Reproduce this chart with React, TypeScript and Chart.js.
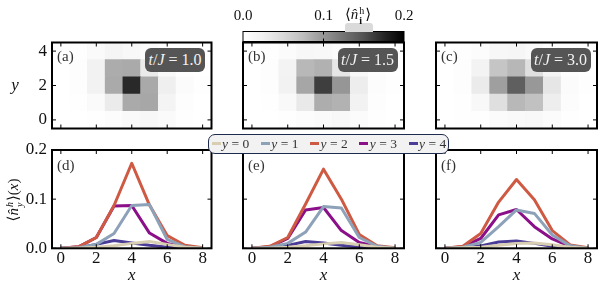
import React, { useEffect, useRef } from 'react';
import { Chart, registerables } from 'chart.js';
Chart.register(...registerables);

// ---------- data ----------
const xSites = [0, 1, 2, 3, 4, 5, 6, 7, 8];
const ySites = [0, 1, 2, 3, 4];
const timeLabels = ['1.0', '1.5', '3.0'];
const topLetters = ['(a)', '(b)', '(c)'];
const bottomLetters = ['(d)', '(e)', '(f)'];
const xTickValues = [0, 2, 4, 6, 8];
const heatYTickValues = [0, 2, 4];
const lineYTickValues = [0, 0.1, 0.2];
const cbarTickValues = [0, 0.1, 0.2];
const cbarMax = 0.2;

// t/J = 1.0  (hole density per row y, along x)
const t10_y0 = [0, 0, 0.002, 0.005, 0.01, 0.014, 0.008, 0.002, 0];
const t10_y1 = [0, 0.001, 0.008, 0.03, 0.087, 0.089, 0.018, 0.003, 0];
const t10_y2 = [0, 0.003, 0.022, 0.087, 0.173, 0.088, 0.026, 0.006, 0.001];
const t10_y3 = [0, 0.003, 0.022, 0.086, 0.087, 0.031, 0.01, 0.002, 0];
const t10_y4 = [0, 0.001, 0.008, 0.016, 0.011, 0.006, 0.002, 0.001, 0];
// t/J = 1.5
const t15_y0 = [0, 0, 0.002, 0.005, 0.009, 0.012, 0.007, 0.002, 0];
const t15_y1 = [0, 0.002, 0.01, 0.033, 0.085, 0.082, 0.022, 0.004, 0];
const t15_y2 = [0, 0.004, 0.022, 0.09, 0.161, 0.1, 0.028, 0.005, 0.001];
const t15_y3 = [0, 0.003, 0.02, 0.078, 0.083, 0.036, 0.012, 0.003, 0];
const t15_y4 = [0, 0.001, 0.006, 0.014, 0.011, 0.006, 0.002, 0.001, 0];
// t/J = 3.0
const t30_y0 = [0, 0.001, 0.002, 0.006, 0.01, 0.011, 0.007, 0.002, 0];
const t30_y1 = [0, 0.002, 0.012, 0.044, 0.078, 0.071, 0.027, 0.005, 0];
const t30_y2 = [0, 0.004, 0.03, 0.094, 0.14, 0.099, 0.036, 0.007, 0.001];
const t30_y3 = [0, 0.003, 0.02, 0.068, 0.079, 0.044, 0.019, 0.004, 0];
const t30_y4 = [0, 0.001, 0.005, 0.013, 0.015, 0.01, 0.004, 0.001, 0];

const rowsT10 = [t10_y0, t10_y1, t10_y2, t10_y3, t10_y4];
const rowsT15 = [t15_y0, t15_y1, t15_y2, t15_y3, t15_y4];
const rowsT30 = [t30_y0, t30_y1, t30_y2, t30_y3, t30_y4];
const allRows = [rowsT10, rowsT15, rowsT30];

const rowColors = ['#d8cfb3', '#8da1b9', '#cf5a44', '#8a0f88', '#4b3c98'];
const legendNames = ['0', '1', '2', '3', '4'];

// ---------- styling helpers ----------
const SERIF = '"Liberation Serif", "DejaVu Serif", serif';
const greysStops = ['#ffffff', '#f0f0f0', '#d9d9d9', '#bdbdbd', '#969696', '#737373', '#525252', '#252525', '#000000'];
function hex(c: string) {
  return [parseInt(c.slice(1, 3), 16), parseInt(c.slice(3, 5), 16), parseInt(c.slice(5, 7), 16)];
}
function greys(t: number) {
  t = Math.max(0, Math.min(1, t));
  const f = t * (greysStops.length - 1);
  const i = Math.min(greysStops.length - 2, Math.floor(f));
  const u = f - i;
  const a = hex(greysStops[i]);
  const b = hex(greysStops[i + 1]);
  const m = a.map((v, k) => Math.round(v + (b[k] - v) * u));
  return `rgb(${m[0]},${m[1]},${m[2]})`;
}

const framePlugin = {
  id: 'frame',
  afterDatasetsDraw(chart: any, _args: any, opts: any) {
    const { ctx, chartArea: a, scales } = chart;
    const L = opts.tickLen ?? 4;
    ctx.save();
    ctx.strokeStyle = '#000';
    ctx.lineWidth = opts.tickWidth ?? 1;
    ctx.beginPath();
    for (const v of opts.xTicks || []) {
      const px = scales.x.getPixelForValue(v);
      ctx.moveTo(px, a.bottom);
      ctx.lineTo(px, a.bottom - L);
      ctx.moveTo(px, a.top);
      ctx.lineTo(px, a.top + L);
    }
    for (const v of opts.yTicks || []) {
      const py = scales.y.getPixelForValue(v);
      ctx.moveTo(a.left, py);
      ctx.lineTo(a.left + L, py);
      ctx.moveTo(a.right, py);
      ctx.lineTo(a.right - L, py);
    }
    ctx.stroke();
    ctx.lineWidth = opts.lineWidth ?? 2;
    ctx.strokeRect(a.left, a.top, a.right - a.left, a.bottom - a.top);
    ctx.restore();
  },
};

const gradientPlugin = {
  id: 'cbarGradient',
  beforeDatasetsDraw(chart: any) {
    const { ctx, chartArea: a, scales } = chart;
    const x0 = scales.x.getPixelForValue(0);
    const x1 = scales.x.getPixelForValue(cbarMax);
    const g = ctx.createLinearGradient(x0, 0, x1, 0);
    greysStops.forEach((c, i) => g.addColorStop(i / (greysStops.length - 1), c));
    ctx.save();
    ctx.fillStyle = g;
    ctx.fillRect(a.left, a.top, a.right - a.left, a.bottom - a.top);
    ctx.restore();
  },
};

const W = 606;
const H = 286;

type Rect = { l: number; t: number; r: number; b: number };
const heatRects: Rect[] = [
  { l: 52, t: 42.5, r: 211.5, b: 128.5 },
  { l: 243, t: 42.5, r: 404, b: 128.5 },
  { l: 436, t: 42.5, r: 597, b: 128.5 },
];
const lineRects: Rect[] = [
  { l: 52, t: 150, r: 211.5, b: 248.3 },
  { l: 243, t: 150, r: 404, b: 248.3 },
  { l: 436, t: 150, r: 597, b: 248.3 },
];
const cbarRect: Rect = { l: 243, t: 31.5, r: 404, b: 41.5 };

const AXW = 30; // y axis box width
const AXH = 24; // x axis box height

function padFor(r: Rect) {
  return { left: r.l - AXW, top: r.t, right: W - r.r, bottom: H - r.b - AXH };
}

function heatConfig(k: number) {
  const rows = allRows[k];
  const r = heatRects[k];
  return {
    type: 'bar',
    data: {
      labels: xSites.map(String),
      datasets: ySites.map((yv, ri) => ({
        data: xSites.map(() => [yv - 0.5, yv + 0.5]),
        backgroundColor: rows[ri].map((v) => greys(v / cbarMax)),
        borderWidth: 0,
        barPercentage: 1,
        categoryPercentage: 1,
        grouped: false,
      })),
    },
    plugins: [framePlugin],
    options: {
      responsive: false,
      animation: false,
      devicePixelRatio: 1,
      layout: { padding: padFor(r) },
      plugins: {
        legend: { display: false },
        tooltip: { enabled: false },
        frame: { xTicks: xTickValues, yTicks: heatYTickValues, lineWidth: 2, tickLen: 4 },
      },
      scales: {
        x: {
          type: 'category',
          offset: true,
          grid: { display: false, drawTicks: false },
          border: { display: false },
          ticks: { display: false },
          afterFit: (s: any) => { s.height = AXH; },
        },
        y: {
          type: 'linear',
          min: -0.5,
          max: 4.5,
          grid: { display: false, drawTicks: false },
          border: { display: false },
          ticks: { display: k === 0, padding: 5, color: '#111', font: { family: SERIF, size: 17 } },
          afterBuildTicks: (s: any) => { s.ticks = heatYTickValues.map((v) => ({ value: v })); },
          afterFit: (s: any) => { s.width = AXW; },
        },
      },
    },
  };
}

function lineConfig(k: number) {
  const rows = allRows[k];
  const r = lineRects[k];
  return {
    type: 'line',
    data: {
      datasets: ySites.map((yv, ri) => ({
        label: 'y = ' + yv,
        data: xSites.map((x, i) => ({ x, y: rows[ri][i] })),
        borderColor: rowColors[ri],
        borderWidth: 3,
        pointRadius: 0,
        fill: false,
        tension: 0,
        borderJoinStyle: 'round',
      })),
    },
    plugins: [framePlugin],
    options: {
      responsive: false,
      animation: false,
      devicePixelRatio: 1,
      layout: { padding: padFor(r) },
      plugins: {
        legend: { display: false },
        tooltip: { enabled: false },
        frame: { xTicks: xTickValues, yTicks: lineYTickValues, lineWidth: 2, tickLen: 4 },
      },
      scales: {
        x: {
          type: 'linear',
          min: -0.5,
          max: 8.5,
          offset: false,
          grid: { display: false, drawTicks: false },
          border: { display: false },
          ticks: { padding: 0, color: '#111', font: { family: SERIF, size: 17 }, callback: (v: any) => String(v) },
          afterBuildTicks: (s: any) => { s.ticks = xTickValues.map((v) => ({ value: v })); },
          afterFit: (s: any) => { s.height = AXH; },
        },
        y: {
          type: 'linear',
          min: 0,
          max: 0.2,
          grid: { display: false, drawTicks: false },
          border: { display: false },
          ticks: { display: k === 0, padding: 5, color: '#111', font: { family: SERIF, size: 17 }, callback: (v: any) => Number(v).toFixed(1) },
          afterBuildTicks: (s: any) => { s.ticks = lineYTickValues.map((v) => ({ value: v })); },
          afterFit: (s: any) => { s.width = AXW; },
        },
      },
    },
  };
}

function cbarConfig() {
  const r = cbarRect;
  return {
    type: 'line',
    data: { datasets: [] },
    plugins: [gradientPlugin, framePlugin],
    options: {
      responsive: false,
      animation: false,
      devicePixelRatio: 1,
      layout: { padding: { left: r.l, top: r.t - AXH, right: W - r.r, bottom: H - r.b } },
      plugins: {
        legend: { display: false },
        tooltip: { enabled: false },
        frame: { xTicks: [0.1], yTicks: [], lineWidth: 1, tickLen: 3 },
      },
      scales: {
        x: {
          type: 'linear',
          position: 'top',
          min: 0,
          max: cbarMax,
          offset: false,
          grid: { display: false, drawTicks: false },
          border: { display: false },
          ticks: { padding: 6, color: '#111', font: { family: SERIF, size: 15 }, callback: (v: any) => Number(v).toFixed(1) },
          afterBuildTicks: (s: any) => { s.ticks = cbarTickValues.map((v) => ({ value: v })); },
          afterFit: (s: any) => { s.height = AXH; },
        },
        y: { display: false, min: 0, max: 1 },
      },
    },
  };
}

function ChartCanvas({ make }: { make: () => any }) {
  const ref = useRef<HTMLCanvasElement>(null);
  useEffect(() => {
    const c = new Chart(ref.current as HTMLCanvasElement, make());
    return () => c.destroy();
  }, []);
  return (
    <canvas
      ref={ref}
      width={W}
      height={H}
      style={{ position: 'absolute', left: 0, top: 0, width: W, height: H }}
    />
  );
}

function Stack({ sup, sub, size }: { sup: React.ReactNode; sub: React.ReactNode; size: number }) {
  return (
    <span
      style={{
        display: 'inline-flex',
        flexDirection: 'column',
        verticalAlign: 'middle',
        fontSize: size,
        lineHeight: 0.95,
        margin: '0 1px',
      }}
    >
      <span>{sup}</span>
      <span>{sub}</span>
    </span>
  );
}

function Centered({ x, y, children, style }: { x: number; y: number; children: React.ReactNode; style?: any }) {
  return (
    <div
      style={{
        position: 'absolute',
        left: x,
        top: y,
        transform: 'translate(-50%, -50%)',
        whiteSpace: 'nowrap',
        fontFamily: SERIF,
        ...style,
      }}
    >
      {children}
    </div>
  );
}

export default function App() {
  return (
    <div
      style={{
        position: 'absolute',
        left: 0,
        top: 0,
        width: W,
        height: H,
        background: '#fff',
        overflow: 'hidden',
        fontFamily: SERIF,
      }}
    >
      {[0, 1, 2].map((k) => (
        <ChartCanvas key={'h' + k} make={() => heatConfig(k)} />
      ))}
      {[0, 1, 2].map((k) => (
        <ChartCanvas key={'l' + k} make={() => lineConfig(k)} />
      ))}
      <ChartCanvas make={cbarConfig} />

      {/* colorbar label with its light box */}
      <div
        style={{
          position: 'absolute',
          left: 345,
          top: 23,
          width: 28,
          height: 8.5,
          background: '#dadada',
          borderRadius: '3px 3px 0 0',
        }}
      />
      <Centered x={358} y={15} style={{ fontSize: 15, color: '#111' }}>
        ⟨<i>n̂</i>
        <Stack sup="h" sub={<b>i</b>} size={10} />⟩
      </Centered>

      {/* panel letters */}
      {heatRects.map((r, k) => (
        <div
          key={'tl' + k}
          style={{ position: 'absolute', left: r.l + 5, top: r.t + 6, fontSize: 15, lineHeight: '15px', color: '#333' }}
        >
          {topLetters[k]}
        </div>
      ))}
      {lineRects.map((r, k) => (
        <div
          key={'bl' + k}
          style={{ position: 'absolute', left: r.l + 5, top: r.t + 8, fontSize: 15, lineHeight: '15px', color: '#333' }}
        >
          {bottomLetters[k]}
        </div>
      ))}

      {/* t/J boxes */}
      {heatRects.map((r, k) => (
        <div
          key={'tj' + k}
          style={{
            position: 'absolute',
            left: r.r - 66.5,
            top: r.t + 5,
            width: 60,
            height: 24,
            background: '#555555',
            borderRadius: 6,
            color: '#f2f2f2',
            fontSize: 16,
            display: 'flex',
            alignItems: 'center',
            justifyContent: 'center',
            whiteSpace: 'nowrap',
          }}
        >
          <i>t</i>/<i>J</i>&nbsp;=&nbsp;{timeLabels[k]}
        </div>
      ))}

      {/* axis titles */}
      <Centered x={15} y={85} style={{ fontSize: 17, fontStyle: 'italic', color: '#111' }}>
        y
      </Centered>
      {lineRects.map((r, k) => (
        <Centered key={'xt' + k} x={(r.l + r.r) / 2} y={275} style={{ fontSize: 17, fontStyle: 'italic', color: '#111' }}>
          x
        </Centered>
      ))}
      <Centered
        x={14}
        y={200}
        style={{ fontSize: 15, color: '#111', transform: 'translate(-50%, -50%) rotate(-90deg)' }}
      >
        ⟨<i>n̂</i>
        <Stack sup={<i>h</i>} sub={<i>y</i>} size={10} />⟩(<i>x</i>)
      </Centered>

      {/* legend */}
      <div
        style={{
          position: 'absolute',
          left: 208,
          top: 133.5,
          width: 241,
          height: 20.5,
          boxSizing: 'border-box',
          border: '1.5px solid #1f2b4e',
          borderRadius: 7,
          background: '#f2f2f2',
        }}
      >
        {legendNames.map((n, i) => (
          <div key={'lg' + i}>
            <div
              style={{
                position: 'absolute',
                left: 2.5 + i * 49.25,
                top: 7,
                width: 9,
                height: 3.5,
                background: rowColors[i],
              }}
            />
            <div
              style={{
                position: 'absolute',
                left: 13 + i * 49.25,
                top: 0,
                height: 17.5,
                lineHeight: '17.5px',
                fontSize: 13.5,
                color: '#333',
                whiteSpace: 'nowrap',
              }}
            >
              <i>y</i> = {n}
            </div>
          </div>
        ))}
      </div>
    </div>
  );
}
